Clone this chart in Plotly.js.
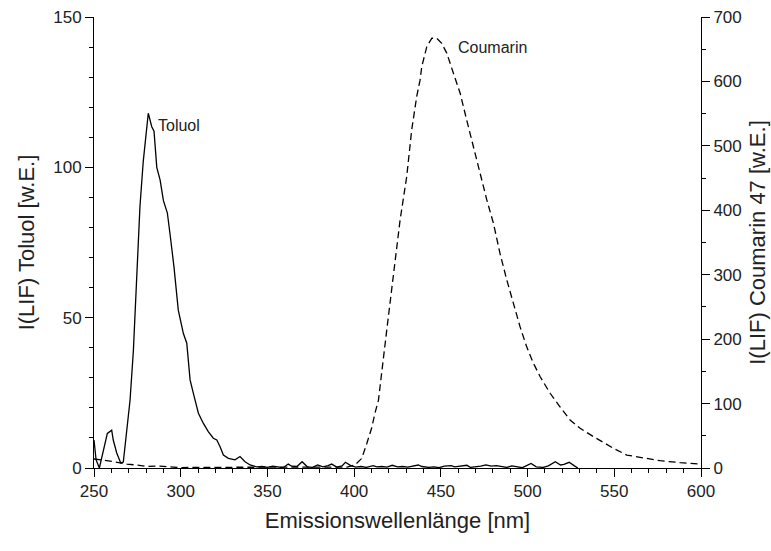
<!DOCTYPE html>
<html>
<head>
<meta charset="utf-8">
<script src="https://cdn.plot.ly/plotly-3.0.1.min.js"></script>
<style>html,body{margin:0;padding:0;background:#fff;}#chart{width:771px;height:551px;}</style>
</head>
<body>
<div id="chart"></div>
<script>
// Toluol LIF (left axis)
var toluolX = [250,251.2,253.1,255,257.7,260.2,261.1,263.1,265.4,266.9,268.9,270.8,272.7,274.6,276.5,278.4,280,281.3,283.3,284.6,286.2,288.1,290,292.3,293.8,296.1,298.6,301.5,303.5,305.4,307.3,310.2,313,315.9,318.8,320.8,322.7,324.6,327.5,331.3,334.2,337.1,340,343.8,
  347,350,353,356,359,362,364,367,370,373,376,379,382,385,387,390,393,395,398,401,404,407,411,413,416,419,422,425,428,431,434,437,439,443,446,449,452,456,458,461,465,467,470,473,476,479,482,485,488,491,494,497,502,505,509,512,516,519,521,524,527,529];
var toluolY = [9.3,2.7,0,5,11.5,12.6,9.3,5,1.7,2,11.6,22.6,39,61.5,87,102,112,118,113.5,112,100,95.8,89,84.8,78,67,52.5,44.8,41.5,29.3,24.8,18.2,14.9,12.1,9.9,9.3,7.1,4.3,3.2,2.7,3.8,2.1,1,0.4,
  0.5,0.2,0.6,0.3,0.1,1.3,0.6,0.5,2.1,0.4,0.2,1.0,0.4,0.8,1.3,0.3,0.7,1.9,0.8,0.3,0.5,0.2,0.8,0.4,0.5,0.3,0.9,0.4,0.5,0.3,0.6,1.0,0.5,0.2,0.4,0.1,0.6,0.8,0.4,0.7,0.9,0.2,0.3,0.6,1.0,0.6,0.8,0.4,0.2,0.7,0.3,0.1,1.5,0.4,0.2,0.7,2.1,1.0,1.2,1.9,0.7,0];

// Coumarin 47 LIF (right axis)
var coumarinX = [250,255,261,265,269,275,280,288,294,300,307,313,320,330,340,350,360,370,380,390,396,400.5,404.4,407.3,410.1,412,414,418.8,424.6,426.5,430.3,433.2,436.1,438,439,441.9,444.8,447.6,450.5,453.4,457.2,461.1,464.9,468.7,472.6,476.5,480.3,484.1,488,491.8,495.7,499.5,503.3,507.2,513,518.7,524.5,530.3,538,549.5,557.2,564.9,576.4,588,600];
var coumarinY = [14,12.5,10,8,6,4.5,2.5,3,2,0.5,1,1,1.5,1,0.5,0.8,0.5,1,1.5,1,1.5,4.7,15,38,62,85,105,214,343,385,452,525,577,602,623,654,667,667,659,644,613,582,540,499,455,416,380,333,292,256,219,188,163,142,116,95,74.5,61.6,48.6,30.6,20,16.6,11.3,8.3,6];

var labelText = ["Toluol","Coumarin"];
var labelX = [285.5, 459];
var labelY = [114, 140];

var font = "Liberation Sans, Arial, sans-serif";

var traces = [
  {x: toluolX, y: toluolY, type: 'scatter', mode: 'lines', line: {color: '#000', width: 1.3}, yaxis: 'y', hoverinfo: 'skip'},
  {x: coumarinX, y: coumarinY, type: 'scatter', mode: 'lines', line: {color: '#000', width: 1.3, dash: '7px,4px'}, yaxis: 'y2', hoverinfo: 'skip'}
];

var layout = {
  width: 771, height: 551,
  margin: {l: 94, r: 70, t: 17, b: 83, pad: 0},
  paper_bgcolor: '#fff', plot_bgcolor: '#fff',
  showlegend: false,
  font: {family: font, color: '#222', size: 17},
  xaxis: {
    range: [250, 600], dtick: 50, tick0: 250,
    showgrid: false, zeroline: false,
    showline: true, linecolor: '#000', linewidth: 1,
    ticks: 'outside', ticklen: 8, tickwidth: 1, tickcolor: '#000',
    minor: {dtick: 10, ticks: 'outside', ticklen: 4, tickwidth: 1, tickcolor: '#000'},
    tickfont: {family: font, size: 17, color: '#222'},
    title: {text: 'Emissionswellenlänge [nm]', font: {family: font, size: 22, color: '#222'}, standoff: 12}
  },
  yaxis: {
    range: [0, 150], dtick: 50,
    showgrid: false, zeroline: false,
    showline: true, linecolor: '#000', linewidth: 1,
    ticks: 'outside', ticklen: 8, tickwidth: 1, tickcolor: '#000',
    minor: {dtick: 10, ticks: 'outside', ticklen: 4, tickwidth: 1, tickcolor: '#000'},
    tickfont: {family: font, size: 17, color: '#222'},
    title: {text: 'I(LIF) Toluol [w.E.]', font: {family: font, size: 22, color: '#222'}, standoff: 12}
  },
  yaxis2: {
    range: [0, 700], dtick: 100,
    overlaying: 'y', side: 'right',
    showgrid: false, zeroline: false,
    showline: true, linecolor: '#000', linewidth: 1,
    ticks: 'outside', ticklen: 8, tickwidth: 1, tickcolor: '#000',
    minor: {dtick: 50, ticks: 'outside', ticklen: 4, tickwidth: 1, tickcolor: '#000'},
    tickfont: {family: font, size: 17, color: '#222'},
    title: {text: 'I(LIF) Coumarin 47 [w.E.]', font: {family: font, size: 22, color: '#222'}, standoff: 8}
  },
  annotations: labelText.map(function(t, i){
    return {text: t, x: labelX[i], y: labelY[i], xref: 'x', yref: 'y', xanchor: 'left', yanchor: 'middle', showarrow: false, font: {family: font, size: 16, color: '#222'}};
  })
};

Plotly.newPlot('chart', traces, layout, {staticPlot: true, displayModeBar: false});
</script>
</body>
</html>
